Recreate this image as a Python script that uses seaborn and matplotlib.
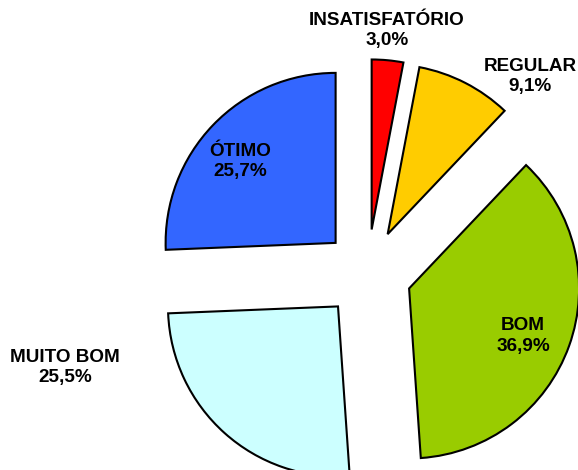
import matplotlib
matplotlib.use("Agg")
import matplotlib.pyplot as plt
import seaborn as sns

# data
categories = ["INSATISFATÓRIO", "REGULAR", "BOM", "MUITO BOM", "ÓTIMO"]
values = [3.0, 9.1, 36.9, 25.5, 25.7]
pct_labels = ["3,0%", "9,1%", "36,9%", "25,5%", "25,7%"]
colors = ["#FF0000", "#FFCC00", "#99CC00", "#CCFFFF", "#3366FF"]

# label positions (pie units, relative to centre)
label_pos = [(0.115, 1.43), (0.955, 1.161), (0.915, -0.368), (-1.779, -0.551), (-0.75, 0.661)]

sns.set_style("white")
plt.rcParams["font.family"] = ["Liberation Sans", "DejaVu Sans"]

fig = plt.figure(figsize=(5.78, 4.70), dpi=100)
ax = fig.add_axes([0, 0, 1, 1])

ax.pie(values, colors=colors, startangle=90, counterclock=False,
       explode=[0.26] * len(values), radius=1.0,
       wedgeprops=dict(edgecolor="black", linewidth=1.5))

for cat, pct, (x, y) in zip(categories, pct_labels, label_pos):
    ax.text(x, y, f"{cat}\n{pct}", ha="center", va="center", multialignment="center",
            fontsize=13.6, fontweight="bold", linespacing=1.25, color="black")

# 170 px per unit, centre at (367.5, 273.5) px from top-left
ax.set_xlim(-367.5 / 170, (578 - 367.5) / 170)
ax.set_ylim(-(470 - 273.5) / 170, 273.5 / 170)
ax.set_aspect("equal")
ax.axis("off")

fig.savefig("out.png", dpi=100)
